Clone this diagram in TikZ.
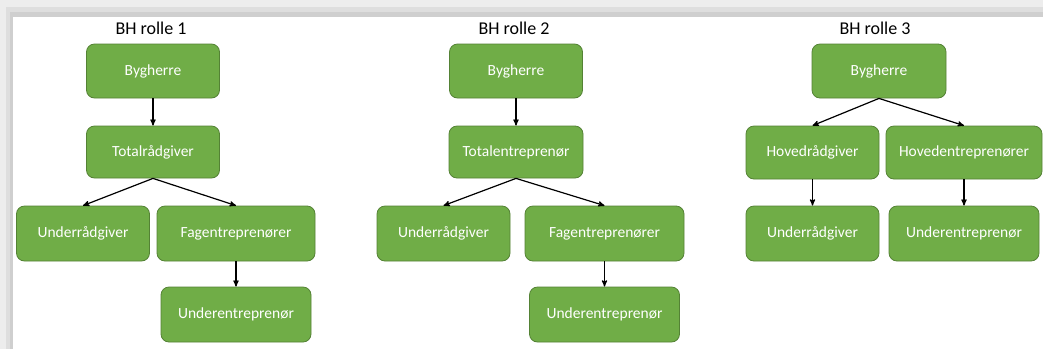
\documentclass[tikz,border=0pt]{standalone}
\usepackage{fontspec}
\setmainfont{Carlito}
\usepackage{tikz}
\usetikzlibrary{arrows}
\definecolor{rolegreen}{HTML}{70AD47}
\definecolor{roleborder}{HTML}{548235}

\begin{document}
\begin{tikzpicture}[x=1pt,y=-1pt,->,>=stealth',shorten >=0pt,line width=1.2pt,
  role node/.style={rectangle,rounded corners=8pt,fill=rolegreen,draw=roleborder,
    line width=0.8pt,text=white,inner sep=0pt,minimum width=133pt,minimum height=54pt,
    font=\fontsize{15.5}{18}\selectfont},
  title node/.style={font=\fontsize{18}{21}\selectfont}]

  \useasboundingbox (0,0) rectangle (1043,349);
  \begin{scope}[-]
    \fill[gray!14] (0,0) rectangle (1043,349);
    \fill[gray!26] (6,7) rectangle (1043,349);
    \fill[gray!38] (10,12) rectangle (1043,349);
    \fill[white] (13,17) rectangle (1043,349);
  \end{scope}

  \node[title node] (t1) at (151,28) {BH rolle 1};
  \node[role node] (b1) at (153,71) {Bygherre};
  \node[role node] (tr1) at (153,152) [minimum height=52pt] {Totalrådgiver};
  \node[role node] (ur1) at (83,233.5) [minimum height=55pt] {Underrådgiver};
  \node[role node] (fe1) at (236,233.5) [minimum width=158pt,minimum height=55pt] {Fagentreprenører};
  \node[role node] (ue1) at (236,314.5) [minimum width=150pt,minimum height=55pt] {Underentreprenør};

  \node[title node] (t2) at (514,28) {BH rolle 2};
  \node[role node] (b2) at (516,71) {Bygherre};
  \node[role node] (te2) at (516,152) [minimum width=134pt,minimum height=52pt] {Totalentreprenør};
  \node[role node] (ur2) at (443.5,233.5) [minimum height=55pt] {Underrådgiver};
  \node[role node] (fe2) at (604.5,233.5) [minimum width=159pt,minimum height=55pt] {Fagentreprenører};
  \node[role node] (ue2) at (604.5,314.5) [minimum width=150pt,minimum height=55pt] {Underentreprenør};

  \node[title node] (t3) at (875,28) {BH rolle 3};
  \node[role node] (b3) at (879,71) [minimum width=134pt] {Bygherre};
  \node[role node] (hr3) at (812.5,152.5) [minimum height=53pt] {Hovedrådgiver};
  \node[role node] (he3) at (964,152.5) [minimum width=156pt,minimum height=53pt] {Hovedentreprenører};
  \node[role node] (ur3) at (812.5,233.5) [minimum height=55pt] {Underrådgiver};
  \node[role node] (ue3) at (964,233.5) [minimum width=150pt,minimum height=55pt] {Underentreprenør};

  \path
    (b1.south) edge (tr1.north)
    (tr1.south) edge (ur1.north)
    (tr1.south) edge (fe1.north)
    (fe1.south) edge (ue1.north)
    (b2.south) edge (te2.north)
    (te2.south) edge (ur2.north)
    (te2.south) edge (fe2.north)
    (fe2.south) edge (ue2.north)
    (b3.south) edge (hr3.north)
    (b3.south) edge (he3.north)
    (hr3.south) edge (ur3.north)
    (he3.south) edge (ue3.north);
\end{tikzpicture}
\end{document}
